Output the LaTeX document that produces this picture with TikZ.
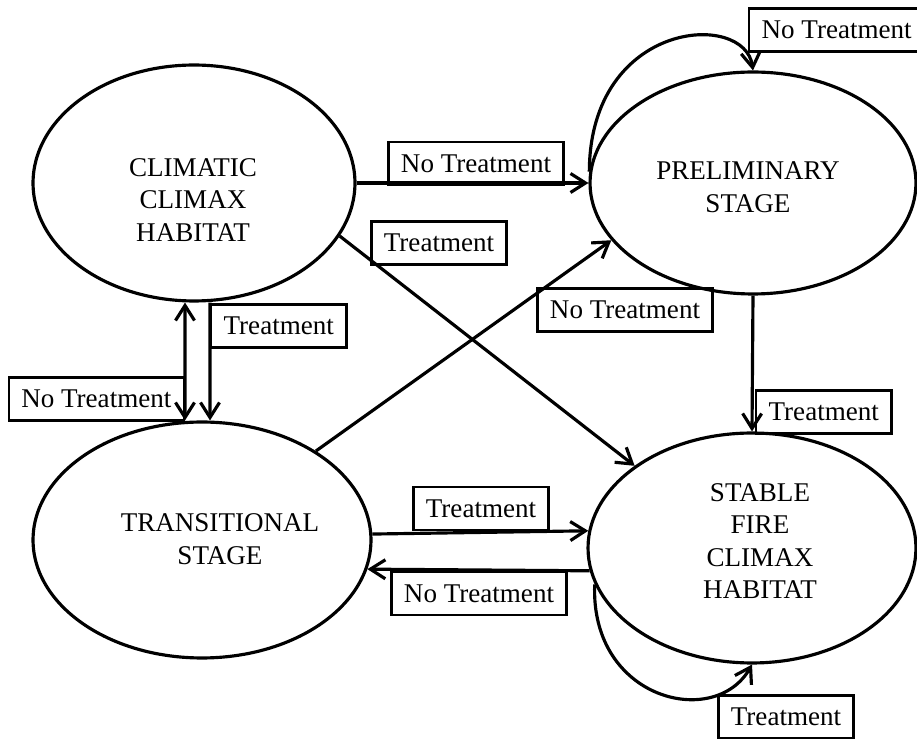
\documentclass[tikz,border=0pt]{standalone}
\usepackage{fontspec}
\setmainfont{Liberation Serif}
\usetikzlibrary{arrows.meta,shapes.geometric}
\tikzset{
  stage/.style={ellipse, draw, line width=1.8pt, inner sep=0pt},
  stagetext/.style={align=center, inner sep=0pt},
  tag/.style={draw, line width=1.3pt, inner xsep=0.25cm, inner ysep=0pt, minimum height=0.86cm},
  arrow/.style={-{Straight Barb[length=3mm, width=3.8mm]}, line width=1.8pt},
  twoway/.style={{Straight Barb[length=3mm, width=3.8mm]}-{Straight Barb[length=3mm, width=3.8mm]}, line width=1.8pt}
}

\begin{document}
\begin{tikzpicture}[x=0.02cm, y=-0.02cm, font=\fontsize{15.4}{18.5}\selectfont]
    \useasboundingbox (0,0) rectangle (917,739);
    % the four stages
    \node[stage, minimum width=6.44cm, minimum height=4.72cm] (climatic) at (194,183) {};
    \node[stage, minimum width=6.52cm, minimum height=4.44cm] (prelim) at (753,183) {};
    \node[stage, minimum width=6.76cm, minimum height=4.72cm] (trans) at (202,540) {};
    \node[stage, minimum width=6.56cm, minimum height=4.60cm] (stable) at (752,548) {};
    \node[stagetext] (climatictxt) at (193,200) {CLIMATIC\\CLIMAX\\HABITAT};
    \node[stagetext] (prelimtxt) at (748,187) {PRELIMINARY\\STAGE};
    \node[stagetext] (transtxt) at (220,539) {TRANSITIONAL\\STAGE};
    \node[stagetext] (stabletxt) at (760,541) {STABLE\\FIRE\\CLIMAX\\HABITAT};
    % labels
    \node[tag, anchor=south] (cp) at (476,186) {No Treatment};
    \node[tag] (cs) at (439,243) {Treatment};
    \node[tag] (tp) at (625,310) {No Treatment};
    \node[tag, anchor=west] (ps) at (755,412) {Treatment};
    \node[tag, anchor=west] (ct) at (210,326) {Treatment};
    \node[tag, anchor=east] (tc) at (185,399) {No Treatment};
    \node[tag, anchor=south] (ts) at (481,531) {Treatment};
    \node[tag, anchor=north] (st) at (479,571) {No Treatment};
    \node[tag, anchor=west] (pp) at (748,30) {No Treatment};
    \node[tag] (ss) at (786,717) {Treatment};
    % transitions
    \draw[arrow] (climatic.east) -- (prelim.west);
    \draw[arrow] (climatic.-20) -- (stable.145);
    \draw[arrow] (trans.38) -- (prelim.202);
    \draw[arrow] (prelim.south) -- (stable.north);
    \draw[twoway] ([xshift=-0.18cm]climatic.south) -- ([xshift=-0.34cm]trans.north);
    \draw[arrow] ([xshift=0.32cm]climatic.south) -- ([xshift=0.16cm]trans.north);
    \draw[arrow] (trans.2.7) -- (stable.174.4);
    \draw[arrow] (stable.-172.2) -- (trans.-10);
    \draw[arrow] (prelim.176) .. controls (590,20) and (745,10) .. (prelim.north);
    \draw[arrow] (stable.-167) .. controls (590,700) and (715,730) .. (stable.south);
  \end{tikzpicture}
\end{document}
